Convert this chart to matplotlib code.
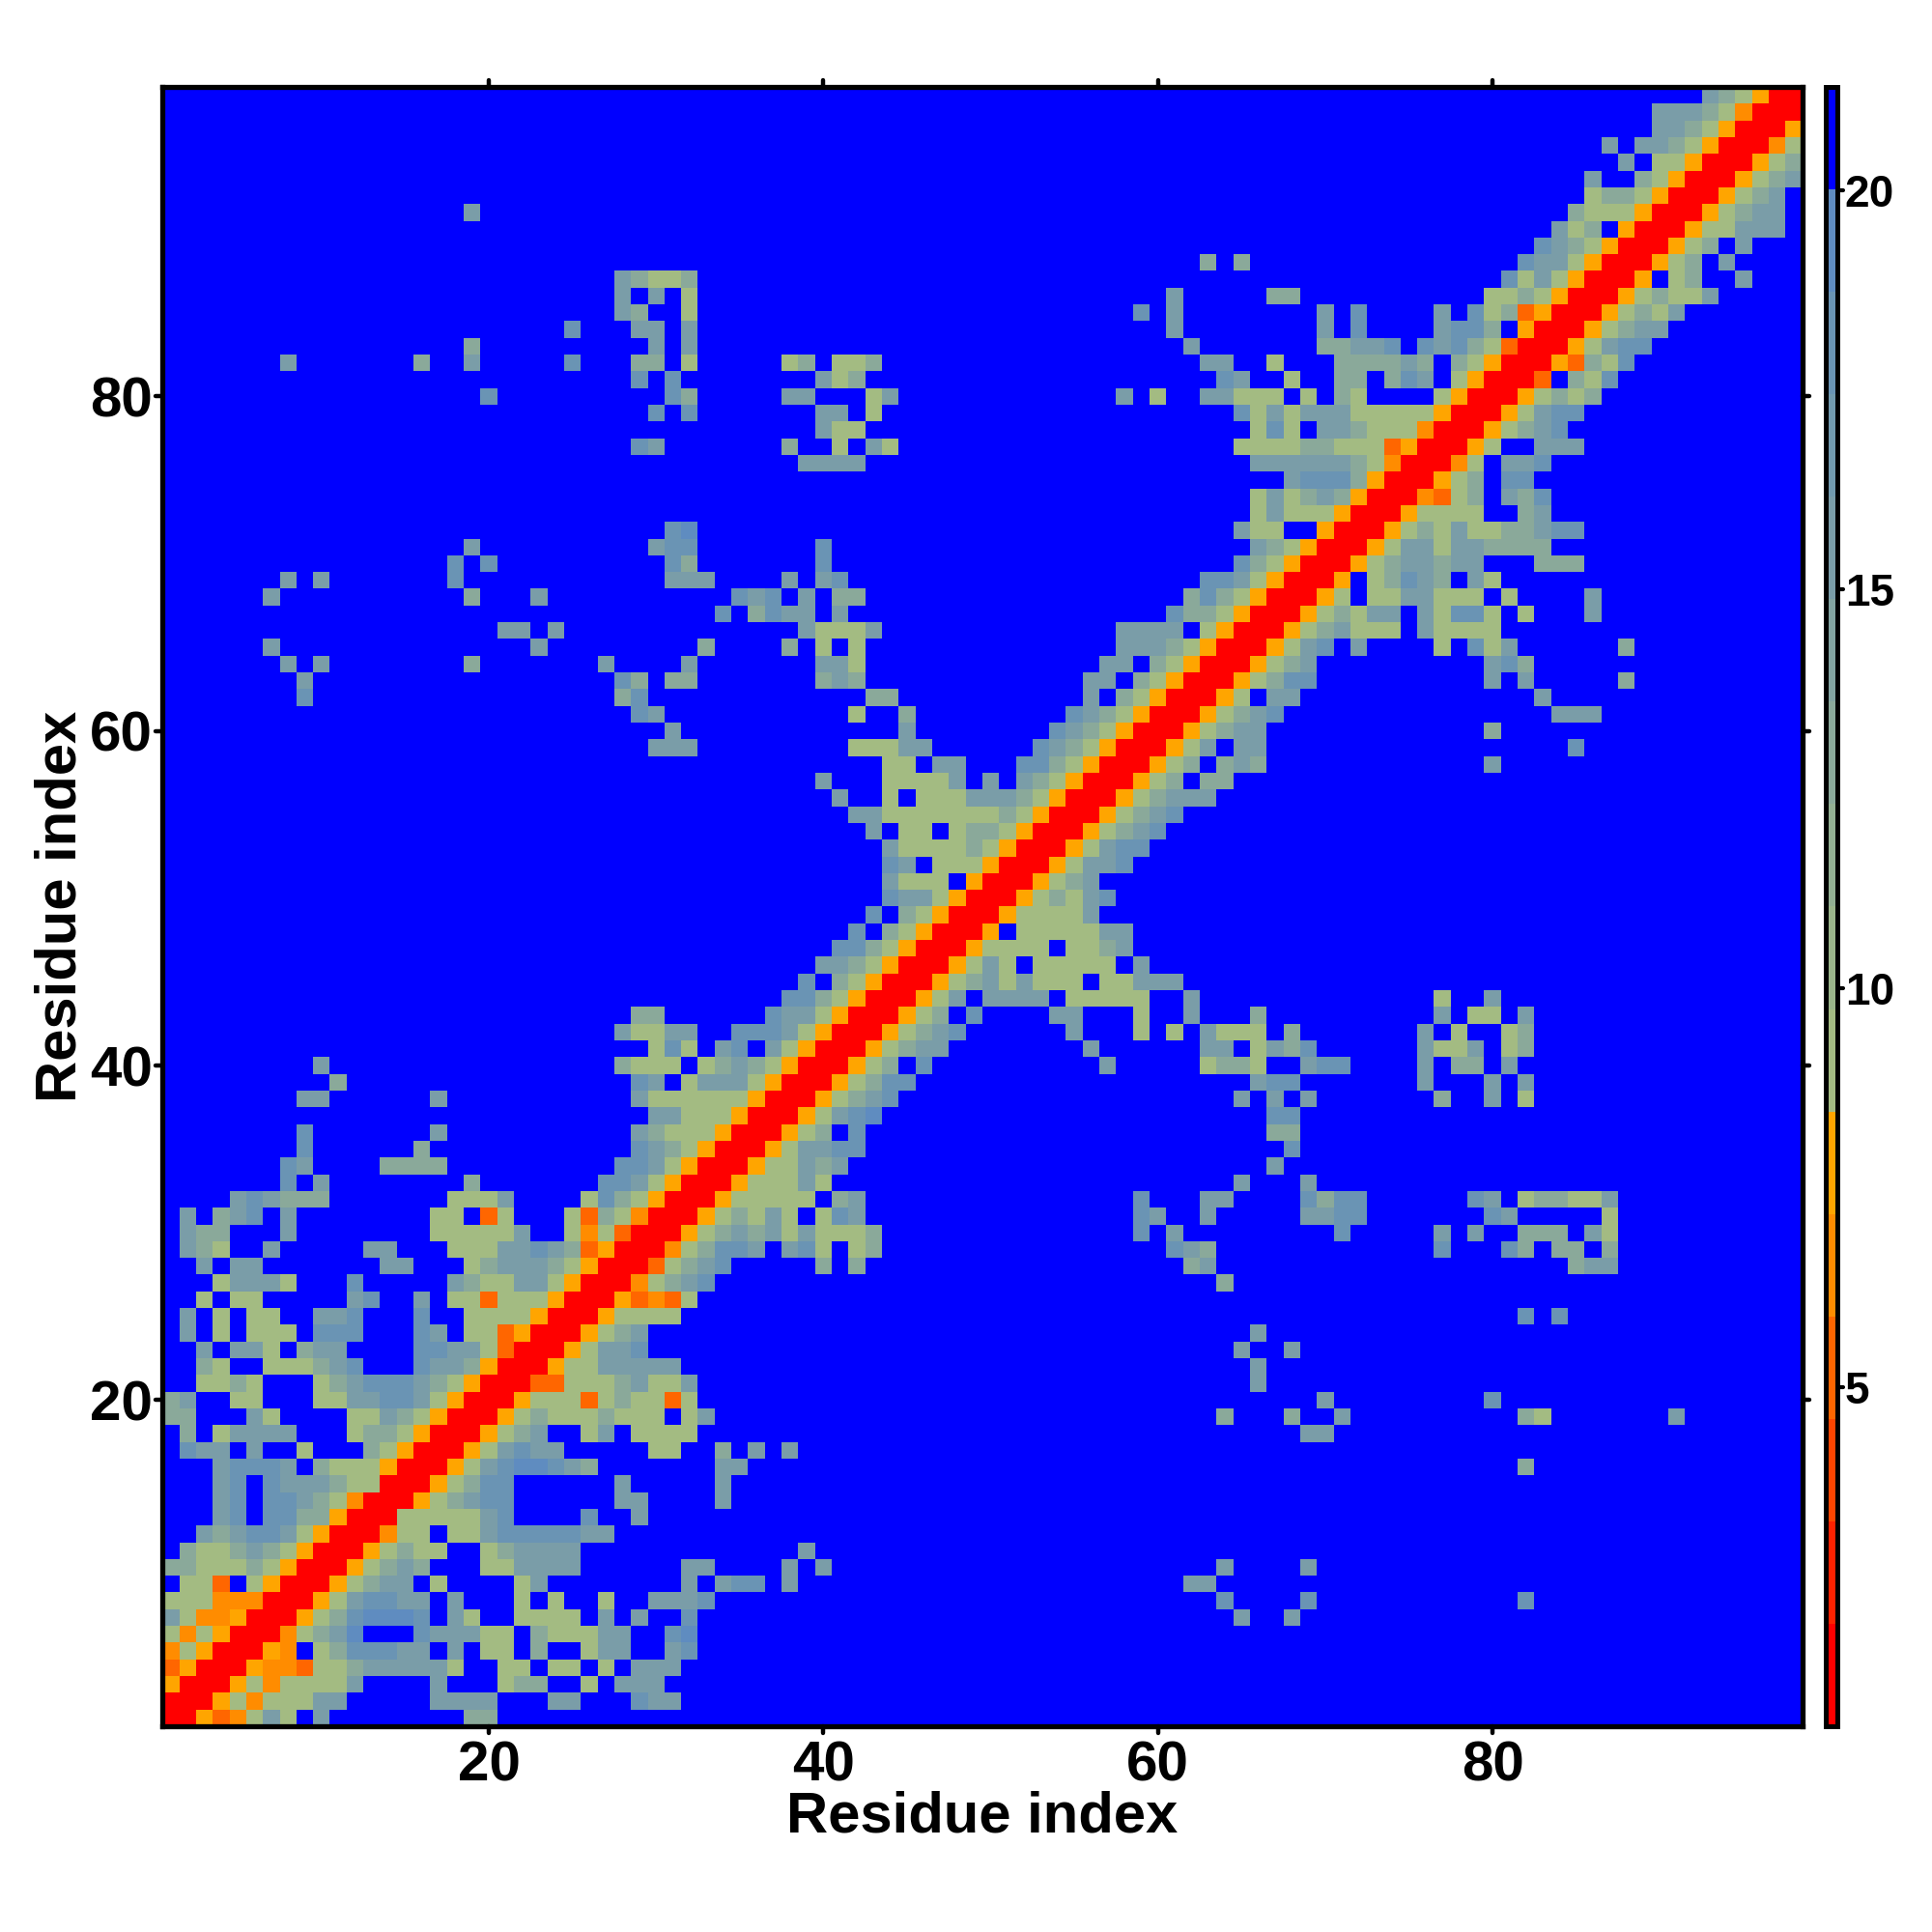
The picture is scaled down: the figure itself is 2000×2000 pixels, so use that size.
import numpy as np
import matplotlib
matplotlib.use("Agg")
import matplotlib.pyplot as plt
from matplotlib.markers import MarkerStyle
from matplotlib.colors import ListedColormap, Normalize

plt.rcParams['font.family'] = ['Liberation Sans', 'DejaVu Sans']
plt.rcParams['font.weight'] = 'bold'

N_RESIDUES = 98
x_ticks = [20, 40, 60, 80]
y_ticks = [20, 40, 60, 80]
cbar_ticks = [5, 10, 15, 20]
axis_label = "Residue index"

# distance read for each letter in the contact tables
level_values = {'R': 1.4, 'H': 5.2, 'M': 6.5, 'O': 7.8, 'a': 9.1, 'b': 12.9,
                'c': 15.5, 'd': 18.0, 'e': 19.3, '.': 21.0}
far_value = 21.0
vmin, vmax = 0.75, 21.3
palette = ['#ff0000', '#ff2200', '#ff4500', '#ff6600', '#ff8c00', '#ffa500',
           '#a3bb82', '#9ab58a', '#92af92', '#8aa99a', '#82a3a0', '#7a9da8',
           '#729aae', '#6a94b4', '#5f8cc0', '#0000ff']

# row (residue y) -> "first_x:levels" runs, levels run along x from first_x
contacts = {
98: "93:cbaORR",
97: "90:cccbaMRRR",
96: "90:ccbaORRRO",
95: "87:c.ccbaORRRMa",
94: "88:c.aaORRROab",
93: "86:c..baORRROabc",
92: "86:abbaORRROabc",
91: "19:c 85:baaaORRROabcc",
90: "84:cab.ORRROaaccc",
89: "83:dcbaORRROab.c",
88: "63:b.b 82:dccaORRROab.c",
87: "28:cbaab 81:dacaORRRO.ab..c",
86: "28:c.c.a 61:c 67:bb 80:aabaORRROabaac",
85: "28:cb..a 59:d.c 70:c.d 77:c.dabHORRROabac",
84: "25:d 29:cc.c 61:c 70:c.d 77:cddb.ORRROabcc",
83: "19:b 30:c.c 62:c 70:bbccd.dcdbaHRRROacdd",
82: "8:c 16:b 19:c 25:d 29:bb.a 38:ab.aab 63:cc..a 71:bbbbcb.baORRROHbad",
81: "29:d.d 40:cab 64:dc 68:a 71:bb.bdc.aORRRH.bad",
80: "20:d 31:db 38:cc...ac 58:c.a 63:ccaaa.a.ba 77:aORRROabab",
79: "30:d.d 40:cc.a 65:dacacccaaaaaORRROacdd",
78: "40:caa 66:ada.ccbaaaMRRROabcd",
77: "29:dc 38:b..a.ca 65:aaaabbaaaHORRROa..ccc",
76: "39:cccc 66:ccccccbaMRRRMa.ccd",
75: "68:cdddbORRROab.dd",
74: "66:acabcbORRRMHab.cbd",
73: "66:acaaaORRROaaaa..bc",
72: "31:de 65:caa..ORRROabacaabbcdd",
71: "19:c 30:cdd 40:d 66:cbaORRROaccaccbbbb",
70: "18:d.d 31:db 40:d 65:dbaORRROabccbcc...bbb",
69: "8:c.c 18:d 31:ccc 38:c.cd 63:ddcaORRRO.abdcb.ca",
68: "7:c 19:b 23:c 35:dcd.c.bb 62:bdbaORRROa.aaccaaa.a 86:c",
67: "34:d.bdcc.c 61:dbbaORRROabacc.cadda.a 86:c",
66: "21:cc.c 39:caaac 58:cccc.aORRROabcaaa.caaaa",
65: "7:c 23:c 33:b 38:b.a.a 58:cccbaORRROacd.c....a.dac 88:b",
64: "8:c.c 19:b 27:c 32:c 40:cca 57:cc.baORRROabc 80:cdb",
63: "9:c 28:db.bb 40:bcb 56:cc.baORRROabdd 80:c.c 88:b",
62: "9:d 28:bd 43:bb 56:c.baORRROa.cc 83:c",
61: "29:dc 42:a 45:b 55:dcbaORRROabcd 84:ccc",
60: "31:c 45:c 54:dcbaORRROabcc 80:b",
59: "30:ccc 42:aaacc 53:dcbaORRROac.cc 85:d",
58: "44:aa.cc 52:ddbaORRROab.bcb 80:c",
57: "40:c 44:aaaac.c 52:cbaORRROab.bb",
56: "41:c 44:a.aaacccbaORRROabccc",
55: "42:cc 44:aaaaaaabaORRROabcd",
54: "43:c.aa.abbaORRROabcd",
53: "44:caaaabaORRROacdd",
52: "44:dc.aaaORRROaccd",
51: "44:caaa.ORRROabc",
50: "44:dccaORRROabacd",
49: "43:d.baORRROaaaac",
48: "42:d.baORRRO.aaaaacc",
47: "41:ddbaORRROaaaa.aabc",
46: "40:ccbaORRROaca.aaaaa.c",
45: "39:d.baORRROabcacaaa.aaccc",
44: "38:ddbaORRROac.cccc.aaaaa..c 77:a 80:c",
43: "29:bb 37:dccaORRROab.d 54:cc 59:a 62:c 66:b 77:c 79:aa.c",
42: "28:caacc 35:dddcaORRROabcd 55:c 59:a.a 63:caaa.b 76:c.a 81:ab",
41: "30:ada.c 35:d.caORRROabcc 56:c 63:cc.acbd 76:caac.ab",
40: "10:c 28:baaa.abcbaORRROab.d 57:c 63:abba..cdd 76:c.bb 81:c",
39: "11:b 29:dc.acccaORRROabdd 66:cdd 76:c 80:c.c",
38: "9:cc 17:c 29:caaaaaaORRROabcd 65:c.c.c 77:b 80:c.a",
37: "30:ccaaaORRROacde 67:dd",
36: "9:d 17:c 29:cbaaaORRROab.d 67:bb",
35: "9:d 16:b 29:dcbaORRROaccdd 68:d",
34: "8:dc 14:bbbb 28:ddcaORRROaacbc 67:c",
33: "8:d.c 19:b 27:ddcaORRROaaaca 65:c 69:c",
32: "5:cdcbbb 18:aaac 26:adbaORRROaaaaa.bc 59:d 63:cc 69:dbdd 79:dc.abbaac",
31: "2:c.bcd.c 17:aa.Ha 25:aHbaMRRROabaca.adc 59:dc 63:c 69:ccdd 80:dc 87:a",
30: "2:cbb 8:c 17:aaaaac 25:aMaHRRROabcbcacaaab 59:d.c 71:d 77:c 79:c 82:bbb 86:ca",
29: "2:cba 7:c 13:cc 18:aaaccdcbHORRRMabddc.cda.ab 61:dcb 77:d 81:db 84:bb 87:b",
28: "3:c.cc 14:cc 19:abccc 24:baORRRHabcd 40:b.b 62:bc 85:bcc",
27: "4:accca 12:d 18:cbaaccaORRRMabcd 64:b",
26: "3:a.aa 12:cd 16:c 18:aaHaaaORRROHMHa",
25: "2:c.a.aa 10:ccd 16:d 19:aaaaORRROaaaa 82:d.d",
24: "2:c.a.aaa 10:ddd 16:dc.aaHORRROabc 66:c",
23: "3:c.cca.bcc 16:ddccaHRRROaccd 65:c 68:c",
22: "3:ba 7:aaabcd 16:dccbORRROaaccccc 66:c",
21: "3:aaba 10:abcdddcbaORRRHHaaabcaac 66:c",
20: "1:bc 5:aa 10:aaccddcaORRROaaaHabaaHa 70:c 80:d",
19: "1:bb 6:ca 12:aacbaORRROabaaabaaa.ac 64:b 68:b 71:c 82:ba 91:c",
18: "2:b.acccc 12:abbaORRROabc 26:ac.aaaa 69:cc",
17: "2:dcc.c 9:a 13:baORRROacdcc 30:aa 34:b.c.c",
16: "4:cdddc.baaa 14:ORRROacdeedcb 34:cc 82:b",
15: "4:cd.dcccbaa 14:RRROabdd 28:c 34:c",
14: "4:cd.ddcba 12:MRRROabcdd 28:cc 34:c",
13: "4:cd.ddbbORRRaaaaacd 26:d 29:c",
12: "3:cbcddcaORRRMaa.aacddd 24:ddcc",
11: "2:baabcbaORRROabaa 20:abcccc 39:c",
10: "1:bbaaabaORRROabcb 20:aacccc 32:cc 38:c.c 64:c 69:c",
9: "2:aaH.aORRROabcc.a 22:ac 32:c.cdd.c 62:cc",
8: "1:aaaMMMRRROacddcc.c...a.a..a..cccd 64:d 69:d 82:d",
7: "1:caMMORRROabdeeed.ca 22:aaaa.c.c 32:d 65:c 68:c",
6: "1:aMaORRRMabce...dcccaa.baaacc 31:de",
5: "1:MaORRROM.abdddcc.c.aa.b..acc 31:cd",
4: "1:HORRROMMHaabccccca..aa.aa.a.ccc",
3: "1:ORRROaMaaaac 17:c 21:abb 26:a 28:ccc",
2: "1:RRROaMaaacc 17:cccc 24:cc 29:dcc",
1: "1:RROHMaca.c 19:bb",
}

dist = np.full((N_RESIDUES, N_RESIDUES), far_value)
for row, runs in contacts.items():
    for run in runs.split():
        start, levels = run.split(':')
        for k, ch in enumerate(levels):
            dist[row - 1, int(start) - 1 + k] = level_values[ch]

W, H = 2000.0, 2000.0
fig = plt.figure(figsize=(20, 20), dpi=100, facecolor='white')
ax = fig.add_axes([168.3 / W, 1 - 1787 / H, (1865.5 - 168.3) / W, (1787 - 90) / H])
cax = fig.add_axes([1889.5 / W, 1 - 1787 / H, 12.0 / W, (1787 - 90) / H])

cmap = ListedColormap(palette)
norm = Normalize(vmin=vmin, vmax=vmax)
edges = np.arange(N_RESIDUES + 1) + 0.5
mesh = ax.pcolormesh(edges, edges, dist, cmap=cmap, norm=norm, shading='flat',
                     edgecolors='none', antialiased=False, rasterized=True)
ax.set_xlim(0.5, N_RESIDUES + 0.5)
ax.set_ylim(0.5, N_RESIDUES + 0.5)
ax.set_xticks(x_ticks)
ax.set_yticks(y_ticks)
ax.tick_params(axis='both', which='major', direction='out', length=5, width=3.2,
               top=True, right=True, labelsize=42)
ax.tick_params(axis='x', pad=5.5)
ax.tick_params(axis='y', pad=2.6)
ax.set_xlabel(axis_label, fontsize=43, fontweight='bold', labelpad=-1.5)
ax.set_ylabel(axis_label, fontsize=43, fontweight='bold', labelpad=2)
for lab in ax.get_xticklabels() + ax.get_yticklabels():
    lab.set_fontweight('bold')
for sp in ax.spines.values():
    sp.set_linewidth(3.8)


def round_ticks(axis_obj):
    for tick in axis_obj.get_major_ticks():
        for line in (tick.tick1line, tick.tick2line):
            line.set_marker(MarkerStyle(line.get_marker(), capstyle='round'))


cb = fig.colorbar(mesh, cax=cax)
cb.set_ticks(cbar_ticks)
cb.ax.tick_params(axis='y', direction='out', length=4, width=3.0, labelsize=33, pad=2,
                  right=True, left=False)
for lab in cb.ax.get_yticklabels():
    lab.set_fontweight('bold')
cb.outline.set_linewidth(3.6)
round_ticks(ax.xaxis)
round_ticks(ax.yaxis)
round_ticks(cb.ax.yaxis)

fig.savefig('out.png', dpi=100, facecolor='white')
